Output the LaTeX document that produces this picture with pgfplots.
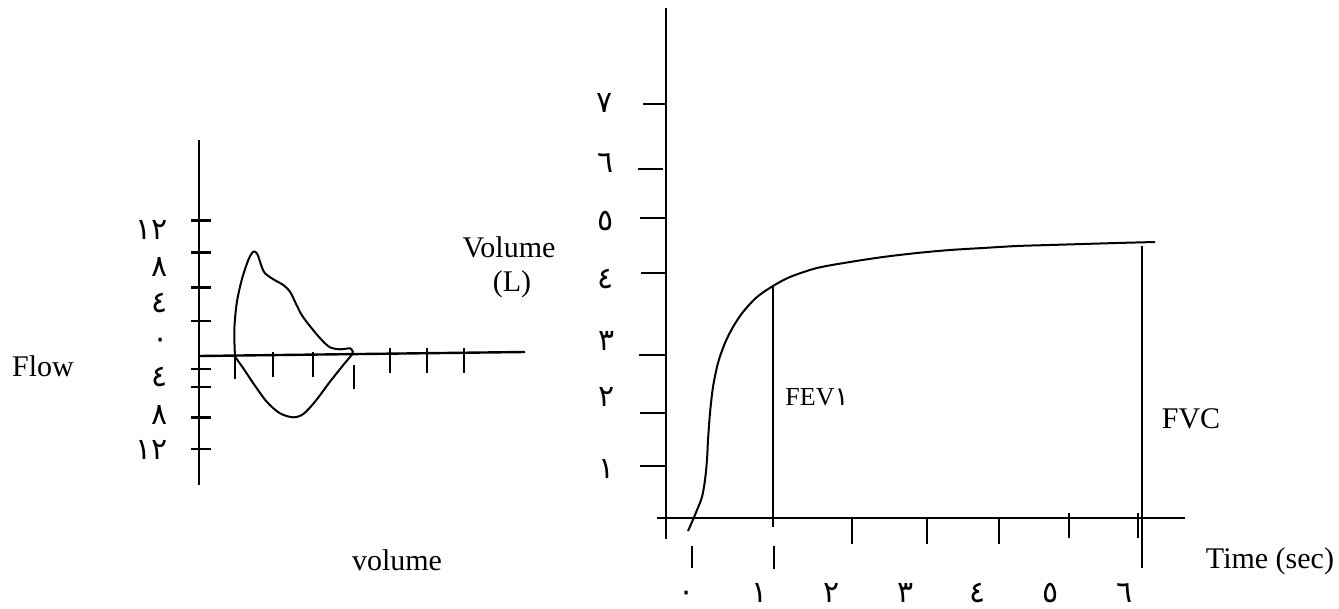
\documentclass[border=0pt]{standalone}
\usepackage{pgfplots}
\pgfplotsset{compat=1.18}
\usepackage{fontspec}
\setmainfont{Liberation Serif}
\newfontfamily\arabicfont[Script=Arabic]{DejaVu Sans}

\tikzset{
  ax/.style={black, line width=1.2pt, mark=none},
  crv/.style={black, line width=1.0pt, mark=none, smooth, tension=0.5},
  txt/.style={font=\fontsize{15}{18}\selectfont, anchor=base, inner sep=0pt},
  num/.style={font=\arabicfont\fontsize{15}{17}\selectfont, anchor=center, inner sep=0pt},
}

\begin{document}
\begin{tikzpicture}
\begin{axis}[
  x=0.5pt, y=0.5pt,
  xmin=0, xmax=1339, ymin=0, ymax=609,
  y dir=reverse,
  hide axis, clip=false,
]
% ---------- flow-volume loop: axes ----------
\addplot[ax] coordinates {(199,140) (199,485)};
\addplot[ax] coordinates {(199,356) (525,352)};
% flow ticks
\addplot[ax] coordinates {(191,220.7) (211,220.7)};
\addplot[ax] coordinates {(191,252.7) (211,252.7)};
\addplot[ax] coordinates {(191,287.7) (211,287.7)};
\addplot[ax] coordinates {(191,321) (211,321)};
\addplot[ax] coordinates {(191,369) (211,369)};
\addplot[ax] coordinates {(191,386.7) (211,386.7)};
\addplot[ax] coordinates {(191,417.3) (211,417.3)};
\addplot[ax] coordinates {(191,449) (211,449)};
% volume ticks
\addplot[ax] coordinates {(235,356) (235,379)};
\addplot[ax] coordinates {(273,352) (273,377)};
\addplot[ax] coordinates {(313,352) (313,377)};
\addplot[ax] coordinates {(354,365) (354,389)};
\addplot[ax] coordinates {(390,348) (390,373)};
\addplot[ax] coordinates {(427,348) (427,373)};
\addplot[ax] coordinates {(464,348) (464,373)};
% expiratory limb (above) and inspiratory limb (below)
\addplot[crv] coordinates {
  (235,356.7) (234.3,330) (236.7,303.3) (241.7,280) (248.3,260) (253.3,251.7)
  (257.3,254) (261.7,266.7) (265,273.3) (273.3,279.3) (283.3,285) (290,291.7)
  (295,301.7) (301.7,315) (311.7,328.3) (321.7,340) (330,347.3) (340,349.3)
  (350,348.3) (352.3,350.7)};
\addplot[crv] coordinates {
  (235,356.7) (243.3,368.3) (253.3,383.3) (266.7,401.7) (280,413.3) (293.3,417.3)
  (303.3,414) (315,401.7) (330,381.7) (343.3,365) (352.3,354) (352.3,350.7)};
% flow labels
\node[num] at (axis cs:152,230) {١٢};
\node[num] at (axis cs:160,267) {٨};
\node[num] at (axis cs:160,303) {٤};
\node[num] at (axis cs:161,343) {٠};
\node[num] at (axis cs:160,377) {٤};
\node[num] at (axis cs:160,415) {٨};
\node[num] at (axis cs:152,450) {١٢};
\node[txt] at (axis cs:43,377) {Flow};
\node[txt] at (axis cs:397,570) {volume};
\node[txt] at (axis cs:509,258) {Volume};
\node[txt] at (axis cs:512,292) {(L)};

% ---------- volume-time curve: axes ----------
\addplot[ax] coordinates {(665.7,8) (665.7,539)};
\addplot[ax] coordinates {(657,518) (1185,518)};
% volume ticks
\addplot[ax] coordinates {(643,104) (665.7,104)};
\addplot[ax] coordinates {(638,169) (663,169)};
\addplot[ax] coordinates {(640,218) (665.7,218)};
\addplot[ax] coordinates {(641,273) (665.7,273)};
\addplot[ax] coordinates {(639,355) (665.7,355)};
\addplot[ax] coordinates {(640,413) (665.7,413)};
\addplot[ax] coordinates {(640,466) (665.7,466)};
% time ticks
\addplot[ax] coordinates {(852,518) (852,544)};
\addplot[ax] coordinates {(927,518) (927,544)};
\addplot[ax] coordinates {(999,518) (999,544)};
\addplot[ax] coordinates {(1069,513) (1069,538)};
\addplot[ax] coordinates {(1138,513) (1138,538)};
\addplot[ax] coordinates {(692,546) (692,568)};
\addplot[ax] coordinates {(774,546) (774,569)};
% FEV1 and FVC markers
\addplot[ax] coordinates {(772.7,287) (772.7,527)};
\addplot[ax] coordinates {(1142,246) (1142,568)};
% forced expiration curve
\addplot[crv] coordinates {
  (688,531) (692,522) (697,510) (702,497) (705,480) (707,460) (708,440)
  (710,413) (713,387) (718,363) (725,343) (733,327) (743,312) (757,297)
  (773,286) (790,277) (817,268) (850,262) (883,257) (917,253) (950,250)
  (983,248) (1017,246) (1050,245) (1083,244) (1117,243) (1155,242)};
% volume labels
\node[num] at (axis cs:605,103) {٧};
\node[num] at (axis cs:606,163) {٦};
\node[num] at (axis cs:606,221) {٥};
\node[num] at (axis cs:606,279) {٤};
\node[num] at (axis cs:607,341) {٣};
\node[num] at (axis cs:607,397) {٢};
\node[num] at (axis cs:607,469) {١};
% time labels
\node[num] at (axis cs:687,596) {٠};
\node[num] at (axis cs:760,593) {١};
\node[num] at (axis cs:832,593) {٢};
\node[num] at (axis cs:906,593) {٣};
\node[num] at (axis cs:978,593) {٤};
\node[num] at (axis cs:1051,593) {٥};
\node[num] at (axis cs:1125,593) {٦};
\node[txt, anchor=base west] at (axis cs:785,405) {\fontsize{13}{15}\selectfont FEV{\arabicfont ١}};
\node[txt] at (axis cs:1191,428) {FVC};
\node[txt] at (axis cs:1270,568) {Time (sec)};
\end{axis}
\pgfresetboundingbox
\path (current axis.south west) rectangle (current axis.north east);
\end{tikzpicture}
\end{document}
